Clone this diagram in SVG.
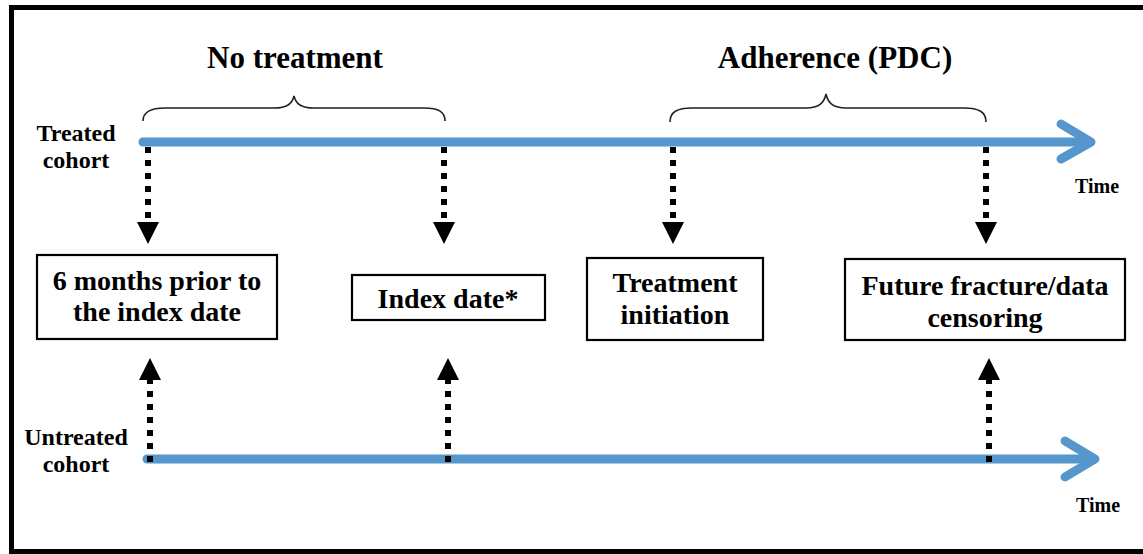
<svg xmlns="http://www.w3.org/2000/svg" width="1143" height="554" viewBox="0 0 1143 554">
  <style>
    .frame { fill: #ffffff; stroke: #000000; stroke-width: 5; }
    .axis { fill: none; stroke: #5596cc; stroke-width: 9; stroke-linecap: round; stroke-linejoin: round; }
    .dots { fill: none; stroke: #000000; stroke-width: 6; stroke-dasharray: 6 7; }
    .brace { fill: none; stroke: #222222; stroke-width: 1.6; }
    .box { fill: #ffffff; stroke: #000000; stroke-width: 2.2; }
    text { font-family: "Liberation Serif", "Times New Roman", serif; font-weight: bold; fill: #000000; text-anchor: middle; }
    .boxtxt { font-size: 28px; }
    .head { font-size: 31px; }
    .side { font-size: 24px; }
    .time { font-size: 20px; }
  </style>
  <defs>
    <marker id="tri" viewBox="0 0 22 22" refX="2" refY="11" markerWidth="22" markerHeight="22" markerUnits="userSpaceOnUse" orient="auto">
      <path d="M0,0 L22,11 L0,22 Z" fill="#000000"/>
    </marker>
  </defs>

  <!-- outer frame -->
  <rect class="frame" x="11.5" y="7.5" width="1140" height="544"/>

  <!-- headings and braces -->
  <g id="no-treatment">
    <text class="head" x="295" y="68">No treatment</text>
    <path class="brace" d="M143,121 C143,112 150,108 165,108 L274,108 C287,108 292,104 294,96 C296,104 301,108 314,108 L424,108 C439,108 445,112 445,121"/>
  </g>
  <g id="adherence">
    <text class="head" x="835" y="68">Adherence (PDC)</text>
    <path class="brace" d="M670,122 C670,112 677,108 692,108 L806,108 C819,108 824,103 826,94 C828,103 833,108 846,108 L964,108 C979,108 986,112 986,122"/>
  </g>

  <!-- cohort labels -->
  <g id="treated-label">
    <text class="side" x="76" y="141">Treated</text>
    <text class="side" x="76" y="168">cohort</text>
  </g>
  <g id="untreated-label">
    <text class="side" x="76" y="445">Untreated</text>
    <text class="side" x="76" y="472">cohort</text>
  </g>

  <!-- time axes -->
  <g id="axes">
    <path class="axis" d="M143,142 L1090,142"/>
    <path class="axis" d="M1061,124 L1091,142 L1061,159"/>
    <text class="time" x="1097" y="193">Time</text>
    <path class="axis" d="M147,459 L1094,459"/>
    <path class="axis" d="M1065,441 L1095,459 L1065,477"/>
    <text class="time" x="1098" y="512">Time</text>
  </g>

  <!-- event boxes -->
  <g id="six-months">
    <rect class="box" x="37" y="255" width="240" height="84"/>
    <text class="boxtxt" x="157" y="290">6 months prior to</text>
    <text class="boxtxt" x="157" y="321">the index date</text>
  </g>
  <g id="index-date">
    <rect class="box" x="352" y="275" width="193" height="45"/>
    <text class="boxtxt" x="448" y="308">Index date*</text>
  </g>
  <g id="treatment-initiation">
    <rect class="box" x="587" y="258" width="176" height="82"/>
    <text class="boxtxt" x="675" y="292">Treatment</text>
    <text class="boxtxt" x="675" y="324">initiation</text>
  </g>
  <g id="future-fracture">
    <rect class="box" x="845" y="259" width="280" height="81"/>
    <text class="boxtxt" x="985" y="295">Future fracture/data</text>
    <text class="boxtxt" x="985" y="327">censoring</text>
  </g>

  <!-- dotted connectors from the time axes to the boxes -->
  <g id="connectors">
    <path class="dots" d="M148,147 L148,224" marker-end="url(#tri)"/>
    <path class="dots" d="M444,147 L444,224" marker-end="url(#tri)"/>
    <path class="dots" d="M673,147 L673,224" marker-end="url(#tri)"/>
    <path class="dots" d="M986,147 L986,224" marker-end="url(#tri)"/>
    <path class="dots" d="M150,462 L150,378" marker-end="url(#tri)"/>
    <path class="dots" d="M448,462 L448,378" marker-end="url(#tri)"/>
    <path class="dots" d="M989,462 L989,378" marker-end="url(#tri)"/>
  </g>
</svg>
